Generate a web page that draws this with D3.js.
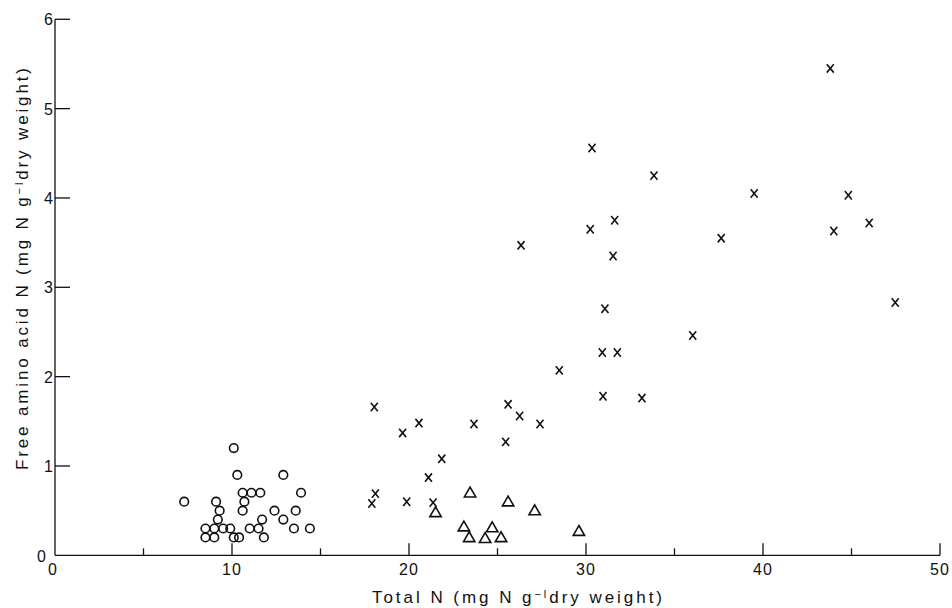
<!DOCTYPE html>
<html>
<head>
<meta charset="utf-8">
<script src="https://cdn.jsdelivr.net/npm/d3@7"></script>
<style>
  body { margin: 0; background: #fff; }
  .axis-line { stroke: #111; stroke-width: 1.3; fill: none; }
  .tick-label { font-family: "Liberation Sans", Arial, sans-serif; font-size: 16px; fill: #111; }
  .title { font-family: "Liberation Sans", Arial, sans-serif; font-size: 17px; fill: #111; }
  .dot { fill: none; stroke: #111; stroke-width: 1.6; }
</style>
</head>
<body>
<div class="chart"></div>
<script>
// total N (x) vs free amino acid N (y), three groups of samples
var circleX = [10.1, 10.3, 12.9, 10.6, 11.1, 11.6, 13.9, 7.3, 9.1, 10.7,
               9.3, 10.6, 12.4, 13.6, 11.7, 9.2, 12.9, 8.5, 9.0, 9.5,
               9.9, 11.0, 11.5, 13.5, 14.4, 8.5, 9.0, 10.1, 10.4, 11.8];
var circleY = [1.2, 0.9, 0.9, 0.7, 0.7, 0.7, 0.7, 0.6, 0.6, 0.6,
               0.5, 0.5, 0.5, 0.5, 0.4, 0.4, 0.4, 0.3, 0.3, 0.3,
               0.3, 0.3, 0.3, 0.3, 0.3, 0.2, 0.2, 0.2, 0.2, 0.2];

var triangleX = [23.45, 25.6, 27.1, 21.5, 23.1, 24.7, 29.6, 23.4, 24.3, 25.2];
var triangleY = [0.69, 0.59, 0.49, 0.47, 0.31, 0.30, 0.26, 0.19, 0.18, 0.19];

var crossX = [17.9, 18.1, 18.04, 19.64, 19.87, 20.56, 21.1, 21.36, 21.85, 23.67,
              25.46, 25.6, 26.25, 27.4, 26.33, 28.49, 30.24, 30.34, 30.92, 30.96,
              31.07, 31.53, 31.62, 31.77, 33.16, 33.84, 36.03, 37.64, 39.5, 43.8,
              44.0, 44.82, 46.0, 47.47];
var crossY = [0.58, 0.69, 1.66, 1.37, 0.60, 1.48, 0.87, 0.59, 1.08, 1.47,
              1.27, 1.69, 1.56, 1.47, 3.47, 2.07, 3.65, 4.56, 2.27, 1.78,
              2.76, 3.35, 3.75, 2.27, 1.76, 4.25, 2.46, 3.55, 4.05, 5.45,
              3.63, 4.03, 3.72, 2.83];

var xMajorTicks = [0, 10, 20, 30, 40, 50],
    xMinorTicks = [5, 15, 25, 35, 45],
    yTicks = [1, 2, 3, 4, 5, 6];

var width = 952,
    height = 608;

// value -> display
var xScale = d3.scaleLinear().domain([0, 50]).range([55, 940]),
    yScale = d3.scaleLinear().domain([0, 6]).range([555.3, 19.3]);

var svg = d3.select(".chart")
  .append("svg")
    .attr("width", width)
    .attr("height", height);

function zip(xs, ys) {
    return xs.map(function(x, i) { return {x: x, y: ys[i]}; });
}

// axes drawn by hand: ticks point inward like the original figure
var axisG = svg.append("g");

axisG.append("line")
    .attr("class", "axis-line")
    .attr("x1", xScale(0)).attr("x2", xScale(50))
    .attr("y1", yScale(0)).attr("y2", yScale(0));

axisG.append("line")
    .attr("class", "axis-line")
    .attr("x1", xScale(0)).attr("x2", xScale(0))
    .attr("y1", yScale(0)).attr("y2", yScale(6));

axisG.selectAll(".xmajor")
    .data(xMajorTicks.slice(1))
  .enter().append("line")
    .attr("class", "axis-line")
    .attr("x1", function(d) { return xScale(d); })
    .attr("x2", function(d) { return xScale(d); })
    .attr("y1", yScale(0))
    .attr("y2", yScale(0) - 12);

axisG.selectAll(".xminor")
    .data(xMinorTicks)
  .enter().append("line")
    .attr("class", "axis-line")
    .attr("x1", function(d) { return xScale(d); })
    .attr("x2", function(d) { return xScale(d); })
    .attr("y1", yScale(0))
    .attr("y2", yScale(0) - 7);

axisG.selectAll(".ytick")
    .data(yTicks)
  .enter().append("line")
    .attr("class", "axis-line")
    .attr("x1", xScale(0))
    .attr("x2", xScale(0) + 15)
    .attr("y1", function(d) { return yScale(d); })
    .attr("y2", function(d) { return yScale(d); });

// tick labels
axisG.selectAll(".xlabel")
    .data(xMajorTicks)
  .enter().append("text")
    .attr("class", "tick-label")
    .attr("x", function(d) { return xScale(d) + (d === 0 ? -2 : 0); })
    .attr("y", 575)
    .style("text-anchor", "middle")
    .style("letter-spacing", "1px")
    .text(function(d) { return d; });

axisG.selectAll(".ylabel")
    .data([0].concat(yTicks))
  .enter().append("text")
    .attr("class", "tick-label")
    .attr("x", function(d) { return d === 0 ? 46 : 53; })
    .attr("y", function(d) { return d === 0 ? 562 : yScale(d) + 6; })
    .style("text-anchor", "end")
    .text(function(d) { return d; });

// axis titles, with superscript -1
function addTitle(el, before) {
    el.append("tspan").text(before + "(mg N g");
    el.append("tspan")
        .attr("dy", -5)
        .style("font-size", "11px")
        .text("\u2212l");
    el.append("tspan")
        .attr("dy", 5)
        .text("dry weight)");
}

var xTitle = svg.append("text")
    .attr("class", "title")
    .attr("x", 372)
    .attr("y", 603)
    .attr("textLength", 290)
    .attr("lengthAdjust", "spacing");
addTitle(xTitle, "Total N  ");

var yTitle = svg.append("text")
    .attr("class", "title")
    .attr("transform", "translate(28,470) rotate(-90)")
    .attr("x", 0)
    .attr("y", 0)
    .attr("textLength", 402)
    .attr("lengthAdjust", "spacing");
addTitle(yTitle, "Free  amino  acid  N  ");

// markers
svg.selectAll(".circ")
    .data(zip(circleX, circleY))
  .enter().append("circle")
    .attr("class", "dot")
    .attr("r", 4.3)
    .attr("cx", function(d) { return xScale(d.x); })
    .attr("cy", function(d) { return yScale(d.y); });

var tri = d3.symbol().type(d3.symbolTriangle).size(56);
svg.selectAll(".tri")
    .data(zip(triangleX, triangleY))
  .enter().append("path")
    .attr("class", "dot")
    .attr("d", tri)
    .attr("transform", function(d) {
        return "translate(" + xScale(d.x) + "," + yScale(d.y) + ")";
    });

svg.selectAll(".cross")
    .data(zip(crossX, crossY))
  .enter().append("path")
    .attr("class", "dot")
    .attr("d", "M-3.5,-4.2L3.5,4.2M3.5,-4.2L-3.5,4.2")
    .attr("transform", function(d) {
        return "translate(" + xScale(d.x) + "," + yScale(d.y) + ")";
    });
</script>
</body>
</html>
